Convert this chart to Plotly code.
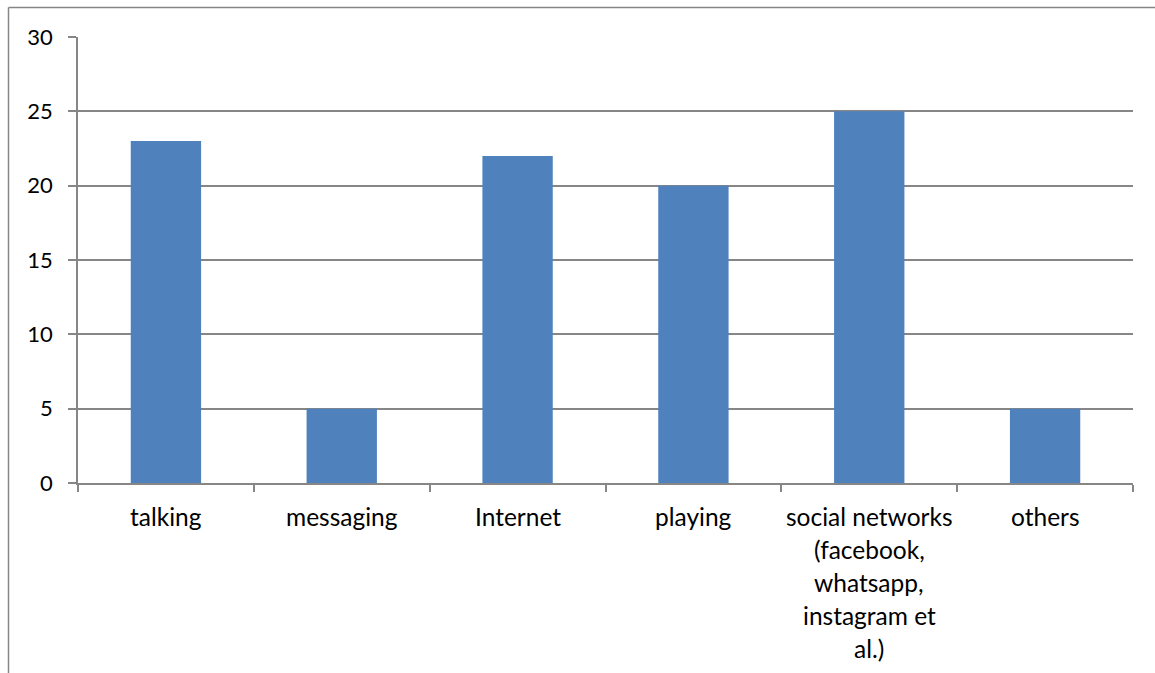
import plotly.graph_objects as go

# Usage purposes and their shares (%)
categories = ["talking", "messaging", "Internet", "playing", "social networks", "others"]
label_lines = [
    ["talking"],
    ["messaging"],
    ["Internet"],
    ["playing"],
    ["social networks", "(facebook,", "whatsapp,", "instagram et", "al.)"],
    ["others"],
]
values = [23, 5, 22, 20, 25, 5]
y_ticks = [0, 5, 10, 15, 20, 25, 30]

FONT = "Lato"
GRID = "#868686"
BAR = "#4F81BD"

W, H = 1155, 673
L, R, T, B = 78, 22, 37, 190
pw, ph = W - L - R, H - T - B

fig = go.Figure(
    go.Bar(
        x=categories,
        y=values,
        marker=dict(color=BAR, line=dict(width=0)),
        width=0.4,
    )
)

# Category labels, one text line per annotation for the wide line pitch
annotations = []
for cat, lines in zip(categories, label_lines):
    for i, line in enumerate(lines):
        annotations.append(
            dict(
                x=cat, y=0, xref="x", yref="y",
                text=line, showarrow=False,
                xanchor="center", yanchor="top",
                yshift=-17 - 33 * i,
                font=dict(family=FONT, size=24.5, color="#000000"),
            )
        )

def px_x(px):
    return (px - L) / pw

def px_y(py):
    return (H - B - py) / ph

fig.update_layout(
    width=W,
    height=H,
    margin=dict(l=L, r=R, t=T, b=B),
    paper_bgcolor="white",
    plot_bgcolor="white",
    showlegend=False,
    annotations=annotations,
    shapes=[
        # outer chart frame (top and left edges)
        dict(type="line", xref="paper", yref="paper",
             x0=px_x(8.5), x1=px_x(W + 5), y0=px_y(7.5), y1=px_y(7.5),
             line=dict(color=GRID, width=1.5)),
        dict(type="line", xref="paper", yref="paper",
             x0=px_x(8.5), x1=px_x(8.5), y0=px_y(7.5), y1=px_y(H + 5),
             line=dict(color=GRID, width=1.5)),
    ],
    xaxis=dict(
        type="category",
        showticklabels=False,
        tickson="boundaries",
        ticks="outside",
        ticklen=7,
        tickcolor=GRID,
        tickwidth=1.5,
        showline=True,
        linecolor=GRID,
        linewidth=1.5,
        showgrid=False,
        zeroline=False,
        range=[-0.5, 5.5],
        fixedrange=True,
    ),
    yaxis=dict(
        range=[0, 30],
        tickvals=y_ticks,
        ticktext=[str(v) for v in y_ticks],
        ticks="outside",
        ticklen=8,
        tickcolor=GRID,
        tickwidth=1.5,
        ticklabelstandoff=11,
        showline=True,
        linecolor=GRID,
        linewidth=1.5,
        showgrid=True,
        gridcolor=GRID,
        gridwidth=1.5,
        zeroline=False,
        tickfont=dict(family=FONT, size=22, color="#000000"),
        fixedrange=True,
    ),
)

fig.write_html("out.html")
